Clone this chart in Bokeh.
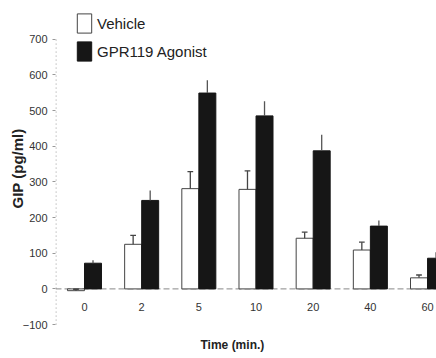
from bokeh.plotting import figure
from bokeh.models import Legend, LegendItem, FixedTicker, Span, Title
from bokeh.core.properties import value
from bokeh.embed import file_html
from bokeh.resources import INLINE

times = ["0", "2", "5", "10", "20", "40", "60"]
vehicle = [-5, 125, 281, 279, 142, 109, 31]
vehicle_err = [4, 25, 48, 52, 17, 22, 8]
agonist = [72, 248, 549, 485, 387, 176, 86]
agonist_err = [8, 28, 36, 41, 45, 16, 17]
y_ticks = [-100, 0, 100, 200, 300, 400, 500, 600, 700]

FONT = "Liberation Sans"
idx = list(range(len(times)))
off = 0.149
bw = 0.297
cap = 0.05
xv = [i - off for i in idx]
xa = [i + off for i in idx]
x_start, x_end = -0.507, 6.157

p = figure(width=436, height=358, x_range=(x_start, x_end), y_range=(-111, 786),
           output_backend="svg", toolbar_location=None, title=None,
           min_border_left=55, min_border_right=0, min_border_top=8, min_border_bottom=28)
p.outline_line_color = None
p.xgrid.visible = False
p.ygrid.visible = False
p.xaxis.visible = False

base = Span(location=0, dimension="width", line_color="#888888", line_dash="6 3",
            line_width=1, level="underlay")
p.add_layout(base)

# dotted y axis line spanning the tick range
p.segment(x0=[x_start + 0.008], y0=[y_ticks[0]], x1=[x_start + 0.008], y1=[y_ticks[-1]],
          line_color="#777777", line_dash="1 3", line_width=1)

rv = p.vbar(x=xv, top=vehicle, bottom=0, width=bw, fill_color="white",
            line_color="#444444", line_width=1)
ra = p.vbar(x=xa, top=agonist, bottom=0, width=bw, fill_color="#161616",
            line_color="#161616", line_width=1)

vtop = [v + e for v, e in zip(vehicle, vehicle_err)]
atop = [a + e for a, e in zip(agonist, agonist_err)]
p.segment(x0=xv, y0=vehicle, x1=xv, y1=vtop, line_color="#444444", line_width=1.3)
p.segment(x0=[x - cap for x in xv], y0=vtop, x1=[x + cap for x in xv], y1=vtop,
          line_color="#444444", line_width=1.3)
p.segment(x0=xa, y0=agonist, x1=xa, y1=atop, line_color="#555555", line_width=1.3)

p.text(x=idx, y=[-50] * len(idx), text=times, text_align="center", text_baseline="middle",
       text_font=value(FONT), text_font_size="11px", text_color="#333333")

ax = p.yaxis[0]
ax.ticker = FixedTicker(ticks=y_ticks)
ax.axis_line_color = None
ax.major_tick_out = 3
ax.major_tick_in = 0
ax.major_tick_line_color = "#999999"
ax.minor_tick_out = 0
ax.minor_tick_in = 0
ax.major_label_standoff = 5
ax.major_label_text_font = FONT
ax.major_label_text_font_size = "11px"
ax.major_label_text_color = "#333333"
ax.axis_label = "GIP (pg/ml)"
ax.axis_label_text_font = FONT
ax.axis_label_text_font_size = "15px"
ax.axis_label_text_font_style = "bold"
ax.axis_label_text_color = "#222222"
ax.axis_label_standoff = -6

legend = Legend(items=[LegendItem(label="Vehicle", renderers=[rv]),
                       LegendItem(label="GPR119 Agonist", renderers=[ra])],
                location=(20, 265), glyph_width=18, glyph_height=24, label_height=24,
                label_standoff=4, spacing=4, padding=0, margin=0,
                border_line_color=None, background_fill_alpha=0,
                label_text_font=FONT, label_text_font_size="15px", label_text_color="#222222")
p.add_layout(legend)

p.add_layout(Title(text="Time (min.)", align="left", offset=145, standoff=14,
                   text_font=FONT, text_font_size="12px", text_font_style="bold",
                   text_color="#222222"), "below")

open("out.html", "w").write(file_html(p, INLINE))
